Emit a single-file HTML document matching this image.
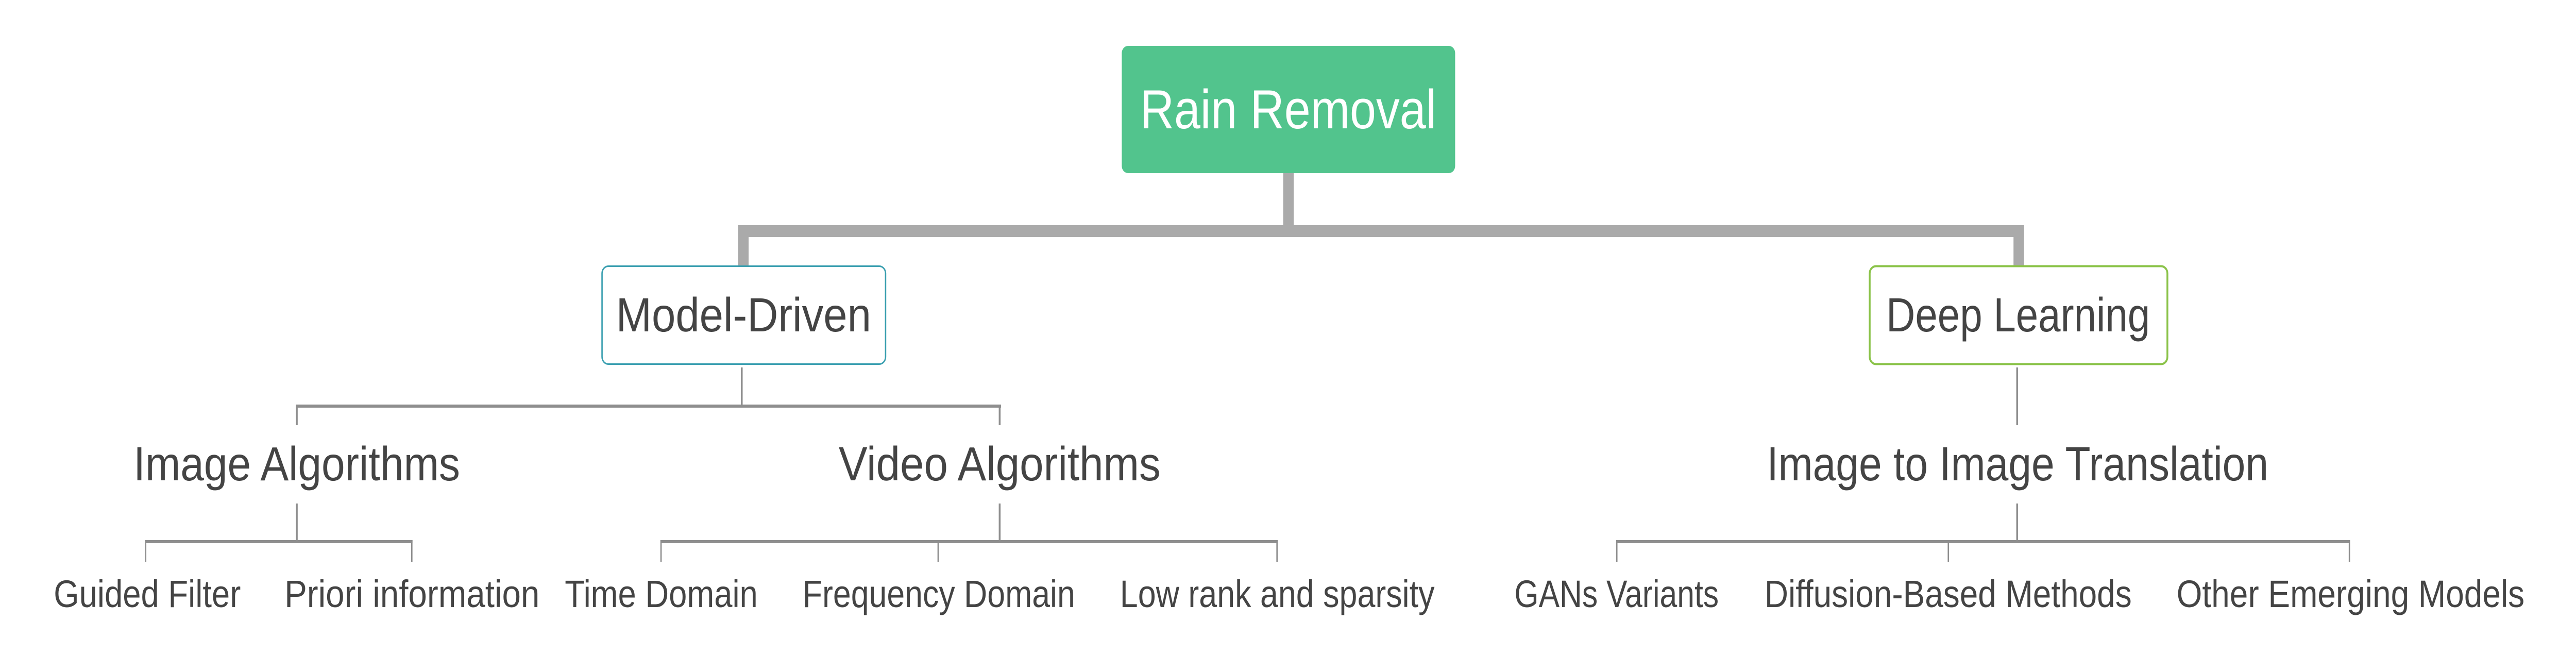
<!DOCTYPE html>
<html><head><meta charset="utf-8"><style>
html,body{margin:0;padding:0;background:#fff;overflow:hidden;width:100%;height:100%;}
svg{display:block;width:100vw;height:100vh;}
text{font-family:"Liberation Sans",sans-serif;fill:#444;}
</style></head><body>
<svg viewBox="0 0 5633 1302" preserveAspectRatio="none" xmlns="http://www.w3.org/2000/svg">
<g fill="#aaaaaa">
<rect x="2806" y="336" width="23" height="124"/>
<rect x="1614" y="437" width="2812" height="23"/>
<rect x="1614" y="437" width="23" height="80"/>
<rect x="4403" y="437" width="23" height="80"/>
</g>
<rect x="2453" y="89" width="729" height="247" rx="14" fill="#52c48d"/>
<text x="2817" y="249" font-size="107" text-anchor="middle" textLength="648" lengthAdjust="spacingAndGlyphs" style="fill:#fff">Rain Removal</text>
<rect x="1316.5" y="516.5" width="620" height="190" rx="14" fill="#fff" stroke="#3a9fb0" stroke-width="3"/>
<text x="1626" y="643" font-size="93" text-anchor="middle" textLength="558" lengthAdjust="spacingAndGlyphs">Model-Driven</text>
<rect x="4088.5" y="516.5" width="651" height="190" rx="14" fill="#fff" stroke="#8bc34a" stroke-width="4"/>
<text x="4413" y="643" font-size="93" text-anchor="middle" textLength="577" lengthAdjust="spacingAndGlyphs">Deep Learning</text>
<g fill="#8e8e8e">
<rect x="1620" y="713" width="4" height="76"/>
<rect x="649" y="785" width="1540" height="6"/>
<rect x="647" y="785" width="4" height="40"/>
<rect x="2184" y="785" width="4" height="40"/>
<rect x="4409" y="713" width="4" height="112"/>
</g>
<text x="649" y="932" font-size="93" text-anchor="middle" textLength="714" lengthAdjust="spacingAndGlyphs">Image Algorithms</text>
<text x="2186" y="932" font-size="93" text-anchor="middle" textLength="704" lengthAdjust="spacingAndGlyphs">Video Algorithms</text>
<text x="4412" y="932" font-size="93" text-anchor="middle" textLength="1097" lengthAdjust="spacingAndGlyphs">Image to Image Translation</text>
<g fill="#8e8e8e">
<rect x="647" y="977" width="4" height="74"/>
<rect x="318" y="1048" width="584" height="6"/>
<rect x="317" y="1048" width="3" height="42"/>
<rect x="899" y="1048" width="3" height="42"/>
<rect x="2184" y="977" width="4" height="74"/>
<rect x="1445" y="1048" width="1349" height="6"/>
<rect x="1444" y="1048" width="3" height="42"/>
<rect x="2050" y="1048" width="3" height="42"/>
<rect x="2791" y="1048" width="3" height="42"/>
<rect x="4409" y="977" width="4" height="74"/>
<rect x="3535" y="1048" width="1603" height="6"/>
<rect x="3534" y="1048" width="3" height="42"/>
<rect x="4259" y="1048" width="3" height="42"/>
<rect x="5136" y="1048" width="3" height="42"/>
</g>
<g font-size="74" text-anchor="middle">
<text x="322" y="1178" textLength="409" lengthAdjust="spacingAndGlyphs">Guided Filter</text>
<text x="901" y="1178" textLength="558" lengthAdjust="spacingAndGlyphs">Priori information</text>
<text x="1446" y="1178" textLength="422" lengthAdjust="spacingAndGlyphs">Time Domain</text>
<text x="2053" y="1178" textLength="596" lengthAdjust="spacingAndGlyphs">Frequency Domain</text>
<text x="2793" y="1178" textLength="688" lengthAdjust="spacingAndGlyphs">Low rank and sparsity</text>
<text x="3535" y="1178" textLength="447" lengthAdjust="spacingAndGlyphs">GANs Variants</text>
<text x="4260" y="1178" textLength="803" lengthAdjust="spacingAndGlyphs">Diffusion-Based Methods</text>
<text x="5140" y="1178" textLength="761" lengthAdjust="spacingAndGlyphs">Other Emerging Models</text>
</g>
</svg>
</body></html>
